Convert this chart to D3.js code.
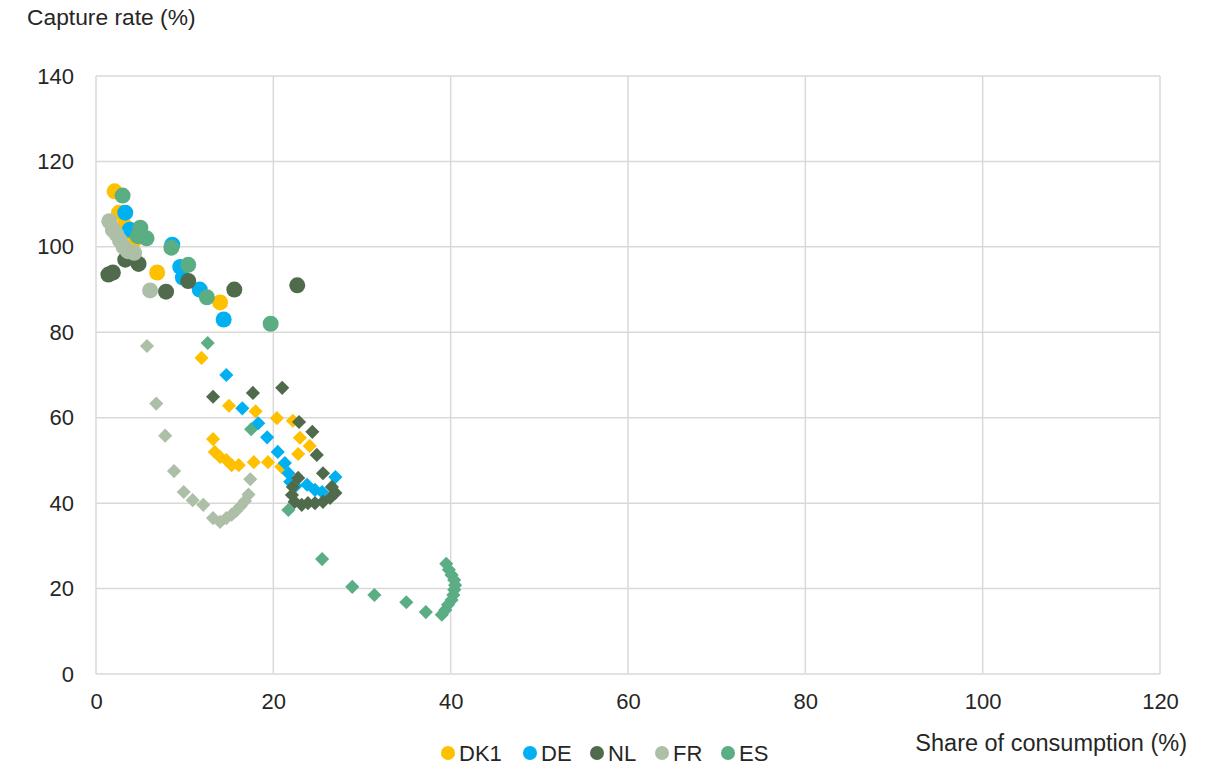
<!DOCTYPE html>
<html lang="en">
<head>
<meta charset="UTF-8">
<title>Capture rate vs share of consumption</title>
<script src="https://cdn.jsdelivr.net/npm/d3@7"></script>
<style>
    body { margin: 0; background: #fff; }
    text { font-family: "Liberation Sans", Arial, sans-serif; fill: #262626; }
</style>
</head>
<body>
<svg width="1212" height="765"></svg>
<script>
    // series names and colours
    const seriesNames = ["DK1", "DE", "NL", "FR", "ES"];
    const seriesColors = ["#FFC000", "#00B0F0", "#4F6B4C", "#ADBFA7", "#5BAD84"];

    // circles: [share of consumption, capture rate]
    const dk1Circles = [[2.1,113],[2.6,108],[3.2,105],[3.8,103],[4.3,101.5],[6.9,94],[14,87]];
    const deCircles  = [[3.3,108],[3.8,104],[8.6,100.5],[9.5,95.3],[9.8,92.8],[11.7,90],[14.4,83]];
    const nlCircles  = [[1.4,93.5],[1.9,94],[3.3,97],[4.8,96],[7.9,89.5],[10.4,92],[15.6,90],[22.7,91]];
    const frCircles  = [[1.5,106],[1.9,104],[2.3,103],[2.7,101.5],[3.1,100],[3.6,99],[4.3,98.6],[6.1,89.8]];
    const esCircles  = [[3,112],[5.0,104.5],[4.7,102.5],[5.7,102],[8.5,99.8],[10.4,95.8],[12.5,88.2],[19.7,82]];

    // diamonds
    const dk1Diamonds = [[11.9,74],[15,62.8],[18,61.5],[20.4,59.9],[22.2,59.3],[23,55.3],[24.1,53.4],[22.8,51.5],
        [13.2,55],[13.4,52],[14,50.8],[14.7,50.1],[15.3,48.9],[16.1,48.9],[17.8,49.6],[19.4,49.6],[20.9,48.5]];
    const deDiamonds = [[14.7,70],[16.5,62.2],[18.3,58.7],[19.3,55.4],[20.5,52],[21.3,49.4],[21.7,47],[21.9,45],
        [22.5,44],[23.8,44.3],[24.7,43.1],[25.5,42.6],[27,46.1]];
    const nlDiamonds = [[13.2,64.9],[17.7,65.8],[21,67],[22.9,59],[24.4,56.7],[24.9,51.3],[25.6,47],[22.8,45.9],
        [22.2,43.8],[22.1,41.9],[22.4,40.3],[23.2,39.6],[23.9,40],[24.7,40],[25.6,40.3],[26.4,41.2],[27,42.4],[26.6,43.8]];
    const frDiamonds = [[5.75,76.8],[6.8,63.3],[7.8,55.8],[8.8,47.5],[9.9,42.6],[10.9,40.7],[12.1,39.6],[13.2,36.5],
        [14,35.6],[14.7,36.5],[15.3,37.3],[15.8,38.2],[16.3,39.3],[16.8,40.5],[17.2,42],[17.4,45.6]];
    const esDiamonds = [[12.6,77.5],[17.5,57.3],[21.7,38.4],[25.5,26.9],[28.9,20.4],[31.4,18.5],[35,16.8],[37.2,14.5],
        [39,13.9],[39.4,15],[39.7,16.2],[40.1,17.3],[40.3,18.5],[40.4,19.7],[40.5,20.8],[40.4,22],[40.1,23.2],[39.8,24.4],[39.5,25.8]];

    const xTicks = [0, 20, 40, 60, 80, 100, 120];
    const yTicks = [0, 20, 40, 60, 80, 100, 120, 140];

    const svg = d3.select("svg");
    const plotLeft = 96, plotRight = 1160, plotTop = 76, plotBottom = 674;

    const x = d3.scaleLinear().domain([0, 120]).range([plotLeft, plotRight]);
    const y = d3.scaleLinear().domain([0, 140]).range([plotBottom, plotTop]);

    // gridlines
    const grid = svg.append("g").attr("stroke", "#D9D9D9").attr("stroke-width", 1.5);
    grid.selectAll(".gx").data(xTicks).enter().append("line")
        .attr("x1", d => x(d)).attr("x2", d => x(d))
        .attr("y1", plotTop).attr("y2", plotBottom);
    grid.selectAll(".gy").data(yTicks).enter().append("line")
        .attr("x1", plotLeft).attr("x2", plotRight)
        .attr("y1", d => y(d)).attr("y2", d => y(d));

    // axes (labels only)
    const xAxis = svg.append("g").attr("transform", `translate(0,${plotBottom})`)
        .call(d3.axisBottom(x).tickValues(xTicks).tickSize(0).tickPadding(19));
    xAxis.select(".domain").remove();
    xAxis.selectAll("text").style("font-size", "22px").style("font-family", "Liberation Sans, Arial, sans-serif").attr("fill", "#262626");

    const yAxis = svg.append("g").attr("transform", `translate(${plotLeft},0)`)
        .call(d3.axisLeft(y).tickValues(yTicks).tickSize(0).tickPadding(22));
    yAxis.select(".domain").remove();
    yAxis.selectAll("text").style("font-size", "22px").style("font-family", "Liberation Sans, Arial, sans-serif").attr("fill", "#262626");

    svg.append("text").attr("x", 27).attr("y", 25).style("font-size", "22.8px").text("Capture rate (%)");
    svg.append("text").attr("x", 1187).attr("y", 751).attr("text-anchor", "end")
        .style("font-size", "23.5px").text("Share of consumption (%)");

    // circles
    const circleSets = [dk1Circles, deCircles, nlCircles, frCircles, esCircles];
    circleSets.forEach((pts, i) => {
        svg.append("g").selectAll("circle").data(pts).enter().append("circle")
            .attr("cx", d => x(d[0])).attr("cy", d => y(d[1]))
            .attr("r", 8).attr("fill", seriesColors[i]);
    });

    // diamonds
    const diamond = d3.symbol().type(d3.symbolSquare).size(100);
    const diamondOrder = [[esDiamonds, 4], [frDiamonds, 3], [dk1Diamonds, 0], [deDiamonds, 1], [nlDiamonds, 2]];
    diamondOrder.forEach(([pts, i]) => {
        svg.append("g").selectAll("path").data(pts).enter().append("path")
            .attr("d", diamond)
            .attr("transform", d => `translate(${x(d[0])},${y(d[1])}) rotate(45)`)
            .attr("fill", seriesColors[i]);
    });

    // legend
    const legendX = [448, 530, 597, 662, 728];
    const legend = svg.append("g").selectAll("g").data(seriesNames).enter().append("g")
        .attr("transform", (d, i) => `translate(${legendX[i]},753)`);
    legend.append("circle").attr("r", 7).attr("fill", (d, i) => seriesColors[i]);
    legend.append("text").attr("x", 11).attr("y", 7.5).style("font-size", "22px").text(d => d);
</script>
</body>
</html>
